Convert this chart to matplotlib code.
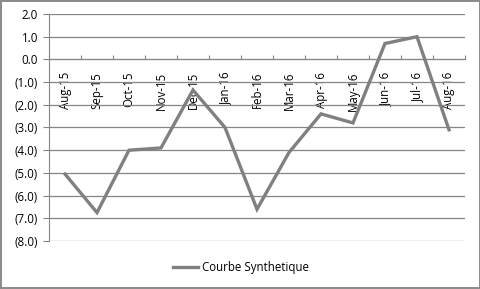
import matplotlib.pyplot as plt
from matplotlib.ticker import FuncFormatter, FixedLocator

months = ["Aug-15", "Sep-15", "Oct-15", "Nov-15", "Dec-15", "Jan-16", "Feb-16",
          "Mar-16", "Apr-16", "May-16", "Jun-16", "Jul-16", "Aug-16"]
values = [-5.05, -6.75, -4.0, -3.9, -1.35, -3.0, -6.6, -4.1, -2.4, -2.8, 0.7, 1.0, -3.1]
series_name = "Courbe Synthetique"

plt.rcParams["font.family"] = ["Open Sans", "DejaVu Sans"]

fig = plt.figure(figsize=(4.81, 2.89), dpi=100)
fig.patch.set_edgecolor("#8c8c8c")
fig.patch.set_linewidth(1.5)
ax = fig.add_axes([49 / 481, 1 - 241 / 289, (465 - 49) / 481, (241 - 14) / 289])

x = list(range(len(months)))
line, = ax.plot(x, values, color="#808080", linewidth=2.4, solid_joinstyle="miter",
                label=series_name, zorder=3)

ax.set_xlim(-0.5, len(months) - 0.5)
ax.set_ylim(-8, 2)
ax.set_yticks([2, 1, 0, -1, -2, -3, -4, -5, -6, -7, -8])
ax.yaxis.set_major_formatter(FuncFormatter(
    lambda v, _: f"({abs(v):.1f})" if v < -1e-9 else f"{v:.1f}"))
ax.grid(axis="y", color="#868686", linewidth=0.9)
ax.set_axisbelow(True)

for side in ("top", "right"):
    ax.spines[side].set_visible(False)
ax.spines["left"].set_color("#868686")
ax.spines["bottom"].set_color("#868686")
ax.spines["bottom"].set_position(("data", 0))

# category boundaries carry the tick marks, labels sit at category centres
ax.xaxis.set_major_locator(FixedLocator([i - 0.5 for i in range(len(months) + 1)]))
ax.xaxis.set_major_formatter(FuncFormatter(lambda v, _: ""))
ax.xaxis.set_minor_locator(FixedLocator(x))
ax.set_xticklabels(months, minor=True, rotation=90, fontsize=8.3)
ax.tick_params(axis="x", which="major", direction="in", length=3, color="#868686")
ax.tick_params(axis="x", which="minor", length=0, pad=9)
for lbl in ax.get_xticklabels(minor=True):
    lbl.set_verticalalignment("top")
ax.tick_params(axis="y", direction="out", length=4, color="#868686", labelsize=8.3, pad=4)

fig.legend(handles=[line], loc="center", bbox_to_anchor=(241 / 481, 1 - 268 / 289),
           frameon=False, fontsize=8.3, handlelength=2.2, handletextpad=0.3)

fig.savefig("out.png", dpi=100)
